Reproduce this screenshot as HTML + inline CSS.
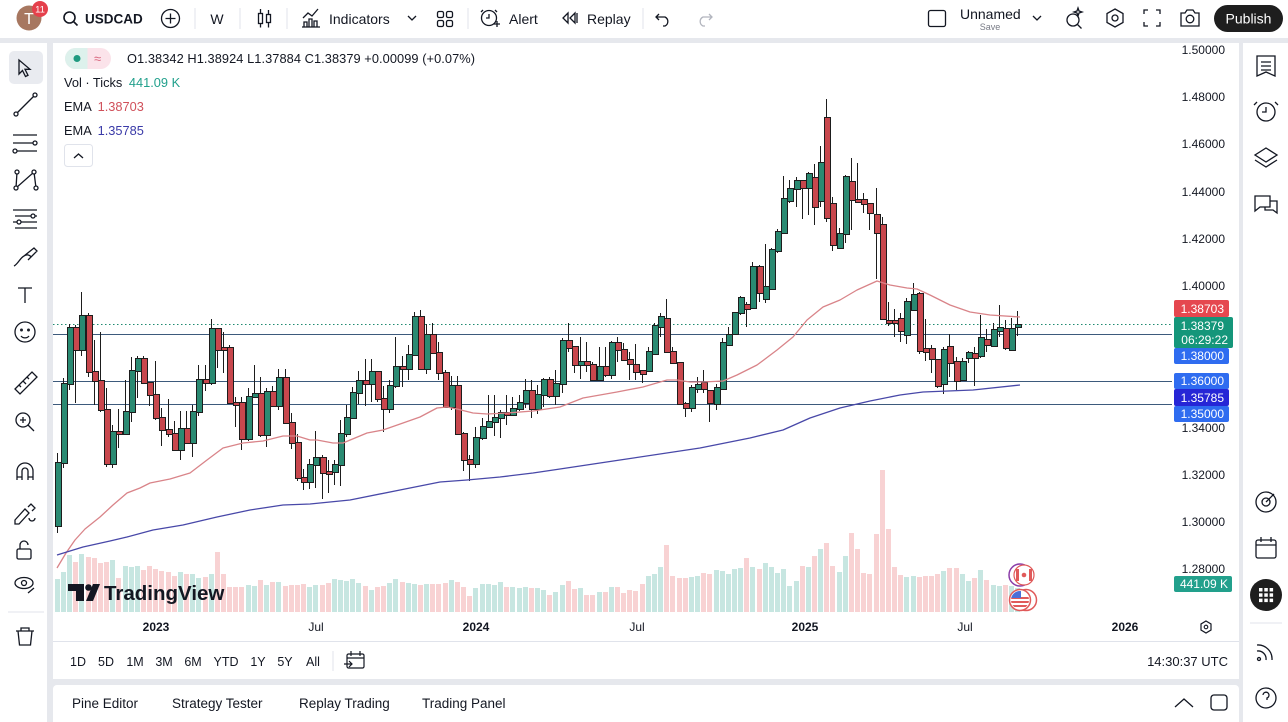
<!DOCTYPE html>
<html><head><meta charset="utf-8">
<style>
*{margin:0;padding:0;box-sizing:border-box}
body{width:1288px;height:722px;overflow:hidden;background:#e6e8ed;font-family:"Liberation Sans",sans-serif;color:#131722}
#root{position:relative;width:1288px;height:722px;overflow:hidden}
.pn{position:absolute;background:#fff}
#cs{position:absolute;left:54.2px;top:0;height:722px;display:flex}
#cs b{position:relative;flex:0 0 6.17px;width:6.17px;height:722px;background-image:linear-gradient(var(--vc),var(--vc));background-repeat:no-repeat;background-size:5px calc(612px - var(--v)*1px);background-position:0.6px calc(var(--v)*1px)}
#cs b::before{content:"";position:absolute;left:2.6px;width:1px;top:calc(var(--h)*1px);height:calc((var(--l) - var(--h))*1px);background:#1d1d1d}
#cs b::after{content:"";position:absolute;left:0.6px;width:5px;top:calc(var(--t)*1px);height:max(2px,calc((var(--b) - var(--t))*1px));border:1px solid #1d1d1d;background:var(--c)}
.g{--c:#2a8a72;--vc:#c7e6e1}
.r{--c:#c8474d;--vc:#f8d2d3}
svg{position:absolute;left:0;top:0}
</style></head><body><div id="root">
<div class="pn" style="left:0;top:0;width:1288px;height:38px"></div>
<div class="pn" style="left:0;top:43px;width:47px;height:679px"></div>
<div class="pn" style="left:53px;top:43px;width:1186px;height:636px"></div>
<div class="pn" style="left:53px;top:685px;width:1186px;height:37px;border-radius:4px 4px 0 0"></div>
<div class="pn" style="left:1243px;top:43px;width:45px;height:679px"></div>

<svg width="1288" height="722">
<g stroke="#3d5a7c" stroke-width="1">
<line x1="53" y1="334.5" x2="1172" y2="334.5"/>
<line x1="53" y1="381.5" x2="1172" y2="381.5"/>
<line x1="53" y1="404.5" x2="1172" y2="404.5"/>
</g>
<line x1="53" y1="324.5" x2="1172" y2="324.5" stroke="#1f8a70" stroke-width="1" stroke-dasharray="1.5 2.5"/>
<line x1="53" y1="641.5" x2="1239" y2="641.5" stroke="#e0e3eb"/>
</svg>

<div id="cs">
<b class="g" style="--t:462;--b:525;--h:453;--l:533;--v:579"></b>
<b class="g" style="--t:383;--b:462;--h:378;--l:468;--v:572"></b>
<b class="g" style="--t:327;--b:383;--h:324;--l:390;--v:555"></b>
<b class="r" style="--t:327;--b:349;--h:325;--l:403;--v:562"></b>
<b class="g" style="--t:315;--b:349;--h:292;--l:356;--v:554"></b>
<b class="r" style="--t:315;--b:371;--h:313;--l:377;--v:557"></b>
<b class="r" style="--t:371;--b:380;--h:340;--l:405;--v:558"></b>
<b class="r" style="--t:380;--b:409;--h:332;--l:412;--v:563"></b>
<b class="r" style="--t:409;--b:463;--h:388;--l:467;--v:562"></b>
<b class="g" style="--t:431;--b:463;--h:425;--l:468;--v:560"></b>
<b class="r" style="--t:431;--b:433;--h:409;--l:448;--v:578"></b>
<b class="g" style="--t:411;--b:433;--h:380;--l:434;--v:566"></b>
<b class="g" style="--t:370;--b:411;--h:357;--l:422;--v:567"></b>
<b class="g" style="--t:358;--b:370;--h:356;--l:398;--v:566"></b>
<b class="r" style="--t:358;--b:382;--h:356;--l:384;--v:570"></b>
<b class="r" style="--t:382;--b:394;--h:382;--l:406;--v:566"></b>
<b class="r" style="--t:394;--b:417;--h:361;--l:420;--v:569"></b>
<b class="r" style="--t:417;--b:429;--h:408;--l:446;--v:571"></b>
<b class="r" style="--t:429;--b:433;--h:399;--l:437;--v:572"></b>
<b class="r" style="--t:433;--b:449;--h:421;--l:451;--v:576"></b>
<b class="g" style="--t:428;--b:449;--h:411;--l:460;--v:572"></b>
<b class="r" style="--t:428;--b:442;--h:411;--l:444;--v:574"></b>
<b class="g" style="--t:411;--b:442;--h:405;--l:457;--v:574"></b>
<b class="g" style="--t:379;--b:411;--h:365;--l:416;--v:578"></b>
<b class="r" style="--t:379;--b:382;--h:365;--l:391;--v:577"></b>
<b class="g" style="--t:328;--b:382;--h:319;--l:385;--v:574"></b>
<b class="r" style="--t:328;--b:349;--h:328;--l:368;--v:552"></b>
<b class="r" style="--t:347;--b:349;--h:332;--l:373;--v:574"></b>
<b class="r" style="--t:347;--b:402;--h:345;--l:404;--v:587"></b>
<b class="r" style="--t:402;--b:403;--h:397;--l:427;--v:587"></b>
<b class="r" style="--t:402;--b:438;--h:397;--l:450;--v:587"></b>
<b class="g" style="--t:396;--b:438;--h:388;--l:441;--v:585"></b>
<b class="g" style="--t:393;--b:396;--h:365;--l:398;--v:586"></b>
<b class="r" style="--t:393;--b:434;--h:377;--l:437;--v:580"></b>
<b class="g" style="--t:391;--b:434;--h:388;--l:447;--v:585"></b>
<b class="r" style="--t:391;--b:405;--h:386;--l:407;--v:582"></b>
<b class="g" style="--t:377;--b:405;--h:369;--l:410;--v:582"></b>
<b class="r" style="--t:377;--b:422;--h:369;--l:424;--v:586"></b>
<b class="r" style="--t:422;--b:442;--h:413;--l:449;--v:585"></b>
<b class="r" style="--t:442;--b:477;--h:434;--l:481;--v:585"></b>
<b class="r" style="--t:477;--b:481;--h:469;--l:490;--v:584"></b>
<b class="g" style="--t:464;--b:481;--h:459;--l:489;--v:587"></b>
<b class="g" style="--t:457;--b:464;--h:431;--l:488;--v:585"></b>
<b class="r" style="--t:457;--b:472;--h:455;--l:499;--v:585"></b>
<b class="r" style="--t:471;--b:472;--h:460;--l:493;--v:583"></b>
<b class="g" style="--t:464;--b:471;--h:460;--l:485;--v:579"></b>
<b class="g" style="--t:433;--b:464;--h:420;--l:486;--v:580"></b>
<b class="g" style="--t:417;--b:433;--h:405;--l:437;--v:581"></b>
<b class="g" style="--t:392;--b:417;--h:387;--l:419;--v:579"></b>
<b class="g" style="--t:380;--b:392;--h:371;--l:404;--v:583"></b>
<b class="r" style="--t:380;--b:383;--h:359;--l:406;--v:586"></b>
<b class="g" style="--t:371;--b:383;--h:359;--l:402;--v:590"></b>
<b class="r" style="--t:371;--b:398;--h:371;--l:402;--v:587"></b>
<b class="r" style="--t:398;--b:408;--h:386;--l:432;--v:586"></b>
<b class="g" style="--t:385;--b:408;--h:380;--l:413;--v:583"></b>
<b class="g" style="--t:366;--b:385;--h:337;--l:388;--v:579"></b>
<b class="r" style="--t:366;--b:368;--h:356;--l:387;--v:582"></b>
<b class="g" style="--t:354;--b:368;--h:345;--l:380;--v:583"></b>
<b class="g" style="--t:316;--b:354;--h:312;--l:356;--v:584"></b>
<b class="r" style="--t:316;--b:368;--h:310;--l:370;--v:585"></b>
<b class="g" style="--t:334;--b:368;--h:324;--l:374;--v:584"></b>
<b class="r" style="--t:334;--b:352;--h:323;--l:354;--v:584"></b>
<b class="r" style="--t:352;--b:372;--h:342;--l:380;--v:584"></b>
<b class="r" style="--t:372;--b:406;--h:370;--l:408;--v:583"></b>
<b class="g" style="--t:385;--b:406;--h:376;--l:410;--v:580"></b>
<b class="r" style="--t:385;--b:433;--h:376;--l:435;--v:582"></b>
<b class="r" style="--t:433;--b:459;--h:432;--l:471;--v:587"></b>
<b class="r" style="--t:459;--b:463;--h:455;--l:481;--v:596"></b>
<b class="g" style="--t:437;--b:463;--h:427;--l:468;--v:588"></b>
<b class="g" style="--t:426;--b:437;--h:418;--l:440;--v:584"></b>
<b class="g" style="--t:421;--b:426;--h:395;--l:428;--v:584"></b>
<b class="g" style="--t:417;--b:421;--h:395;--l:436;--v:585"></b>
<b class="g" style="--t:412;--b:417;--h:410;--l:438;--v:582"></b>
<b class="r" style="--t:412;--b:414;--h:395;--l:425;--v:587"></b>
<b class="g" style="--t:408;--b:414;--h:397;--l:416;--v:587"></b>
<b class="g" style="--t:402;--b:408;--h:395;--l:411;--v:588"></b>
<b class="g" style="--t:390;--b:402;--h:379;--l:408;--v:587"></b>
<b class="r" style="--t:390;--b:408;--h:380;--l:418;--v:588"></b>
<b class="g" style="--t:394;--b:408;--h:385;--l:414;--v:588"></b>
<b class="g" style="--t:379;--b:394;--h:378;--l:407;--v:590"></b>
<b class="r" style="--t:379;--b:395;--h:377;--l:398;--v:595"></b>
<b class="g" style="--t:383;--b:395;--h:370;--l:405;--v:592"></b>
<b class="g" style="--t:340;--b:383;--h:338;--l:393;--v:585"></b>
<b class="r" style="--t:340;--b:347;--h:323;--l:352;--v:581"></b>
<b class="r" style="--t:346;--b:364;--h:346;--l:373;--v:589"></b>
<b class="g" style="--t:361;--b:364;--h:337;--l:379;--v:588"></b>
<b class="r" style="--t:361;--b:364;--h:342;--l:372;--v:595"></b>
<b class="r" style="--t:364;--b:379;--h:362;--l:380;--v:595"></b>
<b class="g" style="--t:366;--b:379;--h:347;--l:380;--v:592"></b>
<b class="r" style="--t:366;--b:374;--h:347;--l:377;--v:592"></b>
<b class="g" style="--t:342;--b:374;--h:341;--l:379;--v:587"></b>
<b class="r" style="--t:342;--b:349;--h:337;--l:362;--v:587"></b>
<b class="r" style="--t:349;--b:359;--h:343;--l:359;--v:593"></b>
<b class="r" style="--t:359;--b:363;--h:352;--l:380;--v:590"></b>
<b class="r" style="--t:364;--b:371;--h:344;--l:380;--v:591"></b>
<b class="r" style="--t:370;--b:373;--h:370;--l:383;--v:584"></b>
<b class="g" style="--t:351;--b:370;--h:347;--l:372;--v:576"></b>
<b class="g" style="--t:325;--b:353;--h:323;--l:355;--v:574"></b>
<b class="g" style="--t:316;--b:326;--h:313;--l:337;--v:567"></b>
<b class="r" style="--t:318;--b:351;--h:299;--l:352;--v:545"></b>
<b class="r" style="--t:351;--b:362;--h:347;--l:363;--v:576"></b>
<b class="r" style="--t:362;--b:403;--h:362;--l:403;--v:578"></b>
<b class="r" style="--t:403;--b:407;--h:402;--l:417;--v:578"></b>
<b class="g" style="--t:387;--b:407;--h:385;--l:412;--v:577"></b>
<b class="g" style="--t:384;--b:388;--h:377;--l:393;--v:576"></b>
<b class="r" style="--t:382;--b:388;--h:370;--l:393;--v:573"></b>
<b class="r" style="--t:390;--b:402;--h:390;--l:422;--v:574"></b>
<b class="g" style="--t:387;--b:403;--h:384;--l:410;--v:570"></b>
<b class="g" style="--t:342;--b:388;--h:338;--l:389;--v:571"></b>
<b class="g" style="--t:334;--b:344;--h:327;--l:346;--v:574"></b>
<b class="g" style="--t:312;--b:333;--h:312;--l:333;--v:569"></b>
<b class="g" style="--t:297;--b:312;--h:296;--l:315;--v:568"></b>
<b class="r" style="--t:304;--b:308;--h:302;--l:327;--v:558"></b>
<b class="g" style="--t:266;--b:307;--h:262;--l:308;--v:567"></b>
<b class="r" style="--t:266;--b:292;--h:265;--l:302;--v:569"></b>
<b class="g" style="--t:286;--b:298;--h:244;--l:303;--v:563"></b>
<b class="g" style="--t:249;--b:288;--h:248;--l:289;--v:567"></b>
<b class="g" style="--t:231;--b:250;--h:229;--l:253;--v:573"></b>
<b class="g" style="--t:198;--b:232;--h:176;--l:233;--v:569"></b>
<b class="g" style="--t:188;--b:200;--h:180;--l:203;--v:586"></b>
<b class="g" style="--t:180;--b:188;--h:177;--l:207;--v:581"></b>
<b class="r" style="--t:180;--b:187;--h:180;--l:219;--v:566"></b>
<b class="g" style="--t:173;--b:187;--h:172;--l:215;--v:567"></b>
<b class="r" style="--t:177;--b:206;--h:164;--l:225;--v:556"></b>
<b class="g" style="--t:162;--b:200;--h:146;--l:207;--v:549"></b>
<b class="r" style="--t:117;--b:217;--h:99;--l:222;--v:543"></b>
<b class="r" style="--t:203;--b:244;--h:197;--l:251;--v:566"></b>
<b class="g" style="--t:233;--b:247;--h:228;--l:249;--v:572"></b>
<b class="g" style="--t:176;--b:233;--h:175;--l:243;--v:556"></b>
<b class="r" style="--t:181;--b:199;--h:158;--l:230;--v:533"></b>
<b class="r" style="--t:199;--b:200;--h:163;--l:203;--v:549"></b>
<b class="r" style="--t:199;--b:203;--h:193;--l:213;--v:573"></b>
<b class="r" style="--t:203;--b:212;--h:203;--l:230;--v:574"></b>
<b class="r" style="--t:214;--b:232;--h:188;--l:279;--v:534"></b>
<b class="r" style="--t:224;--b:318;--h:217;--l:320;--v:470"></b>
<b class="r" style="--t:320;--b:322;--h:302;--l:326;--v:529"></b>
<b class="r" style="--t:320;--b:321;--h:309;--l:337;--v:567"></b>
<b class="r" style="--t:318;--b:330;--h:313;--l:342;--v:575"></b>
<b class="g" style="--t:301;--b:334;--h:298;--l:344;--v:577"></b>
<b class="g" style="--t:294;--b:309;--h:283;--l:310;--v:576"></b>
<b class="r" style="--t:293;--b:350;--h:292;--l:354;--v:577"></b>
<b class="r" style="--t:348;--b:351;--h:319;--l:361;--v:576"></b>
<b class="r" style="--t:348;--b:358;--h:345;--l:373;--v:576"></b>
<b class="r" style="--t:359;--b:385;--h:359;--l:388;--v:574"></b>
<b class="g" style="--t:349;--b:383;--h:347;--l:394;--v:571"></b>
<b class="r" style="--t:346;--b:362;--h:334;--l:377;--v:568"></b>
<b class="r" style="--t:361;--b:380;--h:357;--l:390;--v:568"></b>
<b class="g" style="--t:361;--b:379;--h:358;--l:381;--v:574"></b>
<b class="g" style="--t:352;--b:357;--h:351;--l:363;--v:581"></b>
<b class="r" style="--t:353;--b:357;--h:347;--l:386;--v:578"></b>
<b class="g" style="--t:337;--b:355;--h:315;--l:358;--v:570"></b>
<b class="r" style="--t:339;--b:344;--h:329;--l:352;--v:580"></b>
<b class="g" style="--t:329;--b:345;--h:323;--l:346;--v:585"></b>
<b class="g" style="--t:327;--b:330;--h:305;--l:337;--v:586"></b>
<b class="r" style="--t:328;--b:347;--h:320;--l:350;--v:585"></b>
<b class="g" style="--t:328;--b:349;--h:318;--l:349;--v:586"></b>
<b class="g" style="--t:324;--b:326;--h:311;--l:336;--v:588"></b>
</div>

<svg width="1288" height="722" font-family="Liberation Sans, sans-serif">
<!-- EMAs -->
<polyline fill="none" stroke="#d98489" stroke-width="1.3" stroke-linejoin="round" points="57,568 66,553 75,540 85,529 100,517 113,505 127,493 140,488 150,483 170,479 190,473 207,460 223,448 243,443 263,441 283,436 297,436 310,440 317,440 333,443 343,443 355,438 367,433 383,430 403,423 420,417 437,408 447,407 457,409 473,413 487,414 507,413 533,411 560,407 583,398 617,392 643,387 667,380 677,380 690,382 703,382 723,381 737,375 757,365 777,350 793,337 807,320 823,307 840,300 857,290 877,281 890,285 907,288 917,289 930,295 950,305 970,312 990,315 1020,317"/>
<polyline fill="none" stroke="#4848a8" stroke-width="1.3" stroke-linejoin="round" points="57,555 83,547 110,541 127,537 153,530 183,525 217,517 250,510 283,505 310,504 350,500 400,490 440,482 467,480 500,477 533,473 560,469 620,460 700,448 750,438 783,430 810,418 840,408 870,401 900,395 923,392 973,390 1020,385"/>

<!-- TradingView logo -->
<g fill="#131722">
<path d="M68,584h16v17h-8v-10h-8z"/>
<circle cx="88.5" cy="587.5" r="3.3"/>
<path d="M93,584h7l-7,17h-7z"/>
</g>
<text x="104" y="600" font-size="20.5" font-weight="bold" fill="#131722">TradingView</text>

<!-- flags -->
<circle cx="1020" cy="575" r="11" fill="#fff" stroke="#8b3da8" stroke-width="1.5"/>
<circle cx="1024" cy="575" r="10" fill="#fff" stroke="#e05a5a" stroke-width="1.2"/>
<rect x="1016" y="569" width="3" height="12" fill="#e05a5a"/>
<rect x="1029" y="569" width="3" height="12" fill="#e05a5a"/>
<circle cx="1024" cy="575" r="2.3" fill="#e05a5a"/>
<circle cx="1026" cy="600" r="10.5" fill="#fff" stroke="#e05a5a" stroke-width="1.5"/>
<circle cx="1020" cy="600" r="10.5" fill="#fff" stroke="#e05a5a" stroke-width="1.5"/>
<clipPath id="us"><circle cx="1020" cy="600" r="9"/></clipPath>
<g clip-path="url(#us)">
<rect x="1010" y="591" width="20" height="18" fill="#fff"/>
<rect x="1010" y="597" width="20" height="2" fill="#e05a5a"/>
<rect x="1010" y="601" width="20" height="2" fill="#e05a5a"/>
<rect x="1010" y="605" width="20" height="2" fill="#e05a5a"/>
<rect x="1010" y="591" width="11" height="7" fill="#4a6fd8"/>
</g>

<!-- price axis labels -->
<g font-size="12" fill="#131722" text-anchor="end">
<text x="1225" y="54">1.50000</text>
<text x="1225" y="101">1.48000</text>
<text x="1225" y="148">1.46000</text>
<text x="1225" y="196">1.44000</text>
<text x="1225" y="243">1.42000</text>
<text x="1225" y="290">1.40000</text>
<text x="1225" y="432">1.34000</text>
<text x="1225" y="479">1.32000</text>
<text x="1225" y="526">1.30000</text>
<text x="1225" y="573">1.28000</text>
</g>
<g font-size="12" fill="#fff" text-anchor="end">
<rect x="1174" y="300" width="55" height="17" rx="2" fill="#e5474f"/>
<text x="1224" y="313">1.38703</text>
<rect x="1174" y="317" width="59" height="31" rx="2" fill="#15967a"/>
<text x="1224" y="330">1.38379</text>
<text x="1228" y="344">06:29:22</text>
<rect x="1174" y="348" width="55" height="16" rx="2" fill="#2f6cf0"/>
<text x="1224" y="360">1.38000</text>
<rect x="1174" y="373" width="55" height="16" rx="2" fill="#2f6cf0"/>
<text x="1224" y="385">1.36000</text>
<rect x="1174" y="389" width="55" height="17" rx="2" fill="#2626d6"/>
<text x="1224" y="402">1.35785</text>
<rect x="1174" y="406" width="55" height="16" rx="2" fill="#2f6cf0"/>
<text x="1224" y="418">1.35000</text>
<rect x="1174" y="576" width="58" height="16" rx="2" fill="#22a08c"/>
<text x="1228" y="588">441.09 K</text>
</g>

<!-- time axis -->
<g font-size="12" fill="#131722" text-anchor="middle">
<text x="156" y="631" font-weight="bold">2023</text>
<text x="316" y="631">Jul</text>
<text x="476" y="631" font-weight="bold">2024</text>
<text x="637" y="631">Jul</text>
<text x="805" y="631" font-weight="bold">2025</text>
<text x="965" y="631">Jul</text>
<text x="1125" y="631" font-weight="bold">2026</text>
</g>
<path d="M1206,621l5,3v6l-5,3l-5,-3v-6z" fill="none" stroke="#131722" stroke-width="1.2"/>
<circle cx="1206" cy="627" r="1.8" fill="none" stroke="#131722" stroke-width="1.1"/>

<!-- range bar -->
<g font-size="12.5" fill="#131722" text-anchor="middle">
<text x="78" y="666">1D</text><text x="106" y="666">5D</text><text x="135" y="666">1M</text>
<text x="164" y="666">3M</text><text x="193" y="666">6M</text><text x="226" y="666">YTD</text>
<text x="258" y="666">1Y</text><text x="285" y="666">5Y</text><text x="313" y="666">All</text>
</g>
<line x1="333" y1="651" x2="333" y2="671" stroke="#e0e3eb"/>
<g fill="none" stroke="#131722" stroke-width="1.2">
<rect x="347" y="654" width="17" height="14" rx="1.5"/>
<line x1="347" y1="658" x2="364" y2="658"/>
<line x1="351" y1="651" x2="351" y2="656"/><line x1="360" y1="651" x2="360" y2="656"/>
<path d="M344,664h8m-3,-3l3,3l-3,3"/>
</g>
<text x="1228" y="666" font-size="13" fill="#131722" text-anchor="end">14:30:37 UTC</text>

<!-- bottom panel -->
<g font-size="13.5" fill="#131722">
<text x="72" y="708">Pine Editor</text>
<text x="172" y="708">Strategy Tester</text>
<text x="299" y="708">Replay Trading</text>
<text x="422" y="708">Trading Panel</text>
</g>
<path d="M1175,707l9,-8l9,8" fill="none" stroke="#131722" stroke-width="1.3"/>
<rect x="1211" y="695" width="16" height="15" rx="3" fill="none" stroke="#131722" stroke-width="1.3"/>

<!-- legend -->
<rect x="65" y="48" width="46" height="21" rx="10.5" fill="#fbe3ea"/>
<path d="M75.5,48h12v21h-12a10.5,10.5 0 0 1 0,-21z" fill="#ddf1ec"/>
<circle cx="77" cy="58.5" r="3.5" fill="#1f9a80"/>
<text x="94" y="63" font-size="13" fill="#d9667e">≈</text>
<g font-size="12.8" fill="#131722">
<text x="127" y="63" textLength="348" lengthAdjust="spacing">O1.38342 H1.38924 L1.37884 C1.38379 +0.00099 (+0.07%)</text>
<text x="64" y="87">Vol · Ticks <tspan fill="#22a08c" dx="3">441.09 K</tspan></text>
<text x="64" y="111">EMA <tspan fill="#d0505a" dx="3">1.38703</tspan></text>
<text x="64" y="135">EMA <tspan fill="#3a3aa8" dx="3">1.35785</tspan></text>
</g>
<rect x="64.5" y="144.5" width="28" height="22" rx="3" fill="#fff" stroke="#e0e3eb"/>
<path d="M74,158l4.5,-4l4.5,4" fill="none" stroke="#131722" stroke-width="1.3"/>

<!-- TOP BAR -->
<circle cx="29" cy="18" r="12.5" fill="#a77760"/>
<text x="29" y="24" font-size="16" fill="#fff" text-anchor="middle">T</text>
<circle cx="40" cy="9" r="8" fill="#e5404b"/>
<text x="40" y="12.5" font-size="9.5" fill="#fff" text-anchor="middle">11</text>
<g fill="none" stroke="#131722" stroke-width="1.6">
<circle cx="69.5" cy="17.5" r="5.5"/><line x1="73.5" y1="21.5" x2="77.5" y2="25.5"/>
</g>
<text x="85" y="23.5" font-size="13.5" font-weight="bold" fill="#131722">USDCAD</text>
<g fill="none" stroke="#131722" stroke-width="1.3">
<circle cx="170.5" cy="18.5" r="9"/><path d="M170.5,13.5v10M165.5,18.5h10"/>
<rect x="258.5" y="13.5" width="4" height="10"/><path d="M260.5,9v4.5M260.5,23.5v4"/>
<rect x="266.5" y="14.5" width="4" height="8"/><path d="M268.5,10v4.5M268.5,22.5v5"/>
<path d="M304,27v-5h3v5zM309,27v-8h3v8zM314,27v-6h3v6zM302,27h18M303,18l5,-5l4,3l6,-7"/>
<path d="M408,16l4,4l4,-4"/>
<rect x="437.5" y="11.5" width="6" height="6" rx="1.5"/><rect x="446.5" y="11.5" width="6" height="6" rx="1.5"/>
<rect x="437.5" y="20.5" width="6" height="6" rx="1.5"/><rect x="446.5" y="20.5" width="6" height="6" rx="1.5"/>
<circle cx="489" cy="18" r="7.5"/><path d="M489,14v4h-3M483,10l-2,2M495,10l2,2M494,24h6M497,21v6"/>
<path d="M568,13l-5,5l5,5zM575,13l-5,5l5,5zM577,13v10"/>
<path d="M659,14l-3,3l3,3M656,17h9a5,5 0 0 1 0,9h-2"/>
</g>
<path d="M709,14l3,3l-3,3M712,17h-9a5,5 0 0 0 0,9h2" fill="none" stroke="#b2b5be" stroke-width="1.3"/>
<g font-size="14" fill="#131722">
<text x="217" y="24" text-anchor="middle">W</text>
<text x="329" y="24">Indicators</text>
<text x="509" y="24">Alert</text>
<text x="587" y="24">Replay</text>
<text x="960" y="19">Unnamed</text>
</g>
<text x="990" y="30" font-size="9" fill="#787b86" text-anchor="middle">Save</text>
<g stroke="#e0e3eb"><line x1="195" y1="8" x2="195" y2="29"/><line x1="240" y1="8" x2="240" y2="29"/><line x1="287" y1="8" x2="287" y2="29"/><line x1="468" y1="8" x2="468" y2="29"/><line x1="643" y1="8" x2="643" y2="29"/></g>
<g fill="none" stroke="#131722" stroke-width="1.3">
<rect x="928.5" y="10.5" width="17" height="16" rx="2"/>
<path d="M1033,16l4,4l4,-4"/>
<circle cx="1073" cy="20" r="6"/><path d="M1077.5,24.5l4,4M1078,8l1,3l3,1l-3,1l-1,3l-1,-3l-3,-1l3,-1z"/>
<path d="M1115,9l8,4.5v9l-8,4.5l-8,-4.5v-9z"/><circle cx="1115" cy="18" r="3"/>
<path d="M1144,14v-4h4M1156,10h4v4M1160,22v4h-4M1148,26h-4v-4"/>
<path d="M1181,13h4l2,-3h6l2,3h4v13h-18z"/><circle cx="1190" cy="19" r="3.8"/>
</g>
<rect x="1214" y="5" width="69" height="27" rx="13.5" fill="#1e1e1e"/>
<text x="1248.5" y="23.5" font-size="14" fill="#fff" text-anchor="middle">Publish</text>

<!-- LEFT TOOLBAR -->
<rect x="9" y="51" width="34" height="33" rx="5" fill="#e9ebf0"/>
<g fill="none" stroke="#131722" stroke-width="1.3">
<path d="M19,60l0,14l3.5,-3.5l3,6l2.5,-1.2l-3,-6l5,0z"/>
<path d="M16,114l19,-19"/><circle cx="16" cy="114" r="2" fill="#fff"/><circle cx="35" cy="95" r="2" fill="#fff"/>
<path d="M13,135h24M13,143h20M13,151h24"/><circle cx="35" cy="143" r="2" fill="#fff"/><circle cx="15" cy="151" r="2" fill="#fff"/>
<path d="M17,172l-1,16l18,-16l2,16"/><circle cx="17" cy="172" r="2" fill="#fff"/><circle cx="34" cy="172" r="2" fill="#fff"/><circle cx="16" cy="188" r="2" fill="#fff"/><circle cx="36" cy="188" r="2" fill="#fff"/>
<path d="M13,210h24M15,216h22M13,222h24M15,228h22"/><circle cx="33" cy="216" r="2" fill="#fff"/><circle cx="19" cy="222" r="2" fill="#fff"/>
<path d="M14,266c4,-2 6,-8 10,-10c3,-2 6,-1 7,1M24,256l10,-8l3,3l-9,9"/>
<path d="M18,288h14M25,288v15"/>
<circle cx="25" cy="332" r="10"/><circle cx="21.5" cy="330" r="0.8"/><circle cx="28.5" cy="330" r="0.8"/><path d="M21,336c2,2.5 6,2.5 8,0"/>
<path d="M15,389l17,-17l5,5l-17,17z M19,385l2,2M23,381l3,3M27,377l2,2"/>
<circle cx="23" cy="420" r="7"/><path d="M28,425l6,6M20,420h6M23,417v6"/>
<path d="M17,480v-9a8,8 0 0 1 16,0v9M17,477h5M28,477h5"/><path d="M22,480v-9a3,3 0 0 1 6,0v9"/>
<path d="M15,520l10,-11l4,4l-10,11h-4zM28,507l3,-3l4,4l-3,3"/><path d="M29,518a3,3 0 1 0 6,0"/>
<rect x="17" y="549" width="14" height="10" rx="1.5"/><path d="M20,549v-4a4,4 0 0 1 8,0"/>
<ellipse cx="24" cy="583" rx="9" ry="5.5"/><circle cx="24" cy="583" r="2.5"/><path d="M28,593l6,-5"/>
<path d="M16,631h18M21,631v-3h8v3M18,631l1.5,14h11l1.5,-14"/>
</g>
<line x1="8" y1="612" x2="44" y2="612" stroke="#e0e3eb"/>

<!-- RIGHT TOOLBAR -->
<g fill="none" stroke="#131722" stroke-width="1.3">
<path d="M1257,56h18v20l-9,-4l-9,4zM1261,62h10M1261,66h10M1261,70h10"/>
<circle cx="1266" cy="112" r="9"/><path d="M1266,107v5h-4M1257,102l-3,3M1275,102l3,3"/>
<path d="M1266,148l11,7l-11,7l-11,-7zM1255,160l11,7l11,-7"/>
<path d="M1255,196h15v11h-10l-5,4zM1270,201h7v12l-4,-3h-8v-3"/>
<circle cx="1266" cy="502" r="10"/><circle cx="1266" cy="502" r="4"/><path d="M1266,502l8,-8"/>
<rect x="1256" y="540" width="20" height="18" rx="2"/><path d="M1256,545h20M1261,537v5M1271,537v5"/>
<path d="M1257,645a14,14 0 0 1 15,15M1257,651a8,8 0 0 1 9,9"/><circle cx="1259" cy="659" r="1.5"/>
<circle cx="1266" cy="698" r="10"/><path d="M1263,695a3,3 0 1 1 4,3v2"/>
</g>
<circle cx="1266" cy="595" r="16" fill="#1e1e1e"/>
<g fill="#fff">
<rect x="1259" y="588" width="3.5" height="3.5"/><rect x="1264.3" y="588" width="3.5" height="3.5"/><rect x="1269.6" y="588" width="3.5" height="3.5"/>
<rect x="1259" y="593.3" width="3.5" height="3.5"/><rect x="1264.3" y="593.3" width="3.5" height="3.5"/><rect x="1269.6" y="593.3" width="3.5" height="3.5"/>
<rect x="1259" y="598.6" width="3.5" height="3.5"/><rect x="1264.3" y="598.6" width="3.5" height="3.5"/><rect x="1269.6" y="598.6" width="3.5" height="3.5"/>
</g>
<line x1="8" y1="0" x2="8" y2="0" stroke="none"/>
<line x1="1250" y1="623" x2="1282" y2="623" stroke="#e0e3eb"/>
</svg>
</div></body></html>
